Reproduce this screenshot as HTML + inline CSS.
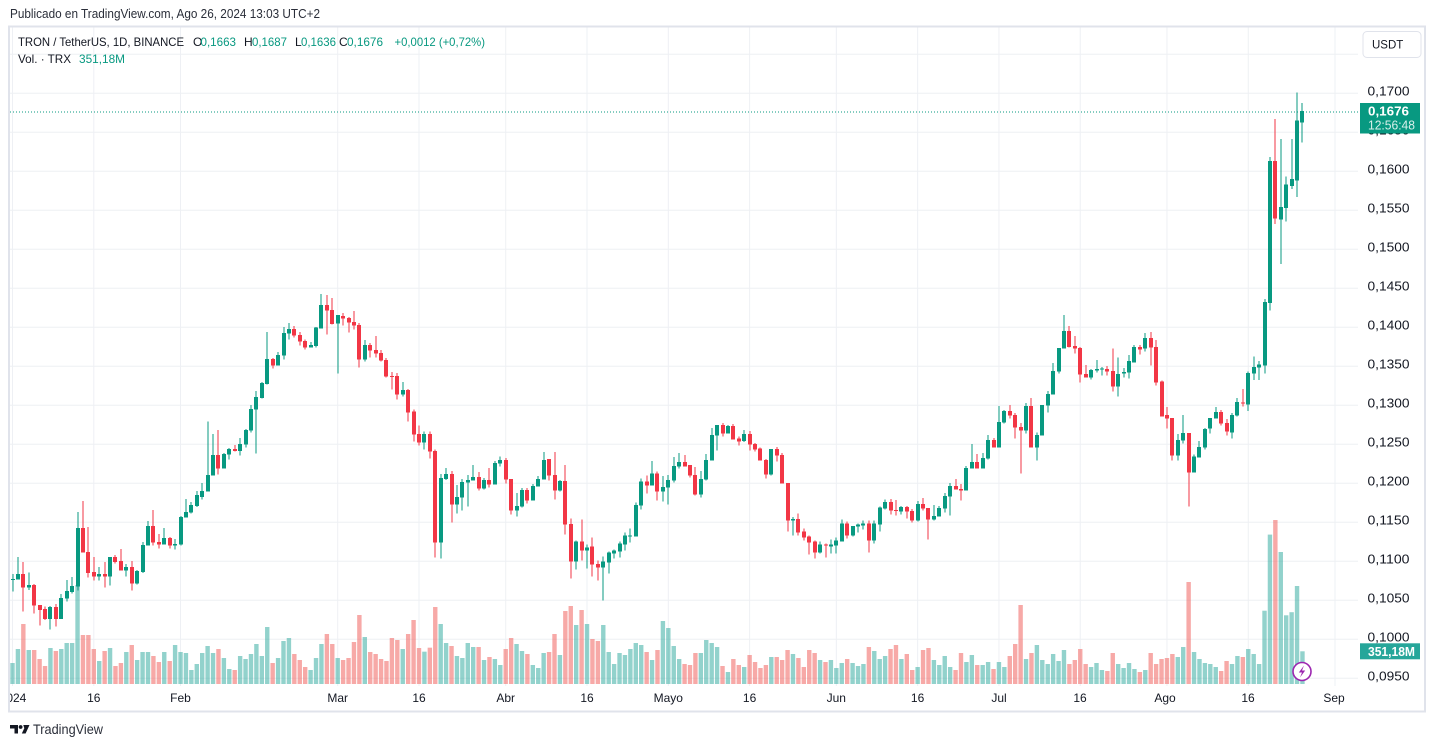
<!DOCTYPE html>
<html><head><meta charset="utf-8">
<style>
html,body{margin:0;padding:0;background:#fff;}
body{width:1435px;height:747px;overflow:hidden;}
svg{display:block;font-family:"Liberation Sans",sans-serif;}
</style></head><body>
<svg id="s" width="1435" height="747" viewBox="0 0 1435 747" xmlns="http://www.w3.org/2000/svg">
<defs><clipPath id="tc"><rect x="10" y="680" width="1350" height="30"/></clipPath></defs>
<rect width="1435" height="747" fill="#fff"/>
<text x="10" y="18" font-size="12.5" fill="#2a2e39" textLength="310" lengthAdjust="spacingAndGlyphs">Publicado en TradingView.com, Ago 26, 2024 13:03 UTC+2</text>
<g id="grid" stroke="#eef0f4" stroke-width="1"></g>
<g id="vol"></g>
<line x1="10" y1="112" x2="1358" y2="112" stroke="#089981" stroke-width="1" stroke-dasharray="1,2"/>
<g id="cdl" shape-rendering="crispEdges"></g>
<rect x="9" y="26.5" width="1416" height="685" fill="none" stroke="#e0e3eb" stroke-width="2"/>
<!-- legend -->
<g font-size="12">
<text x="18" y="46" fill="#131722" textLength="166" lengthAdjust="spacingAndGlyphs">TRON / TetherUS, 1D, BINANCE</text>
<text x="193" y="46" fill="#131722">O</text><text x="200.5" y="46" fill="#089981" textLength="35.5" lengthAdjust="spacingAndGlyphs">0,1663</text>
<text x="244" y="46" fill="#131722">H</text><text x="252" y="46" fill="#089981" textLength="35" lengthAdjust="spacingAndGlyphs">0,1687</text>
<text x="295" y="46" fill="#131722">L</text><text x="301" y="46" fill="#089981" textLength="35" lengthAdjust="spacingAndGlyphs">0,1636</text>
<text x="339" y="46" fill="#131722">C</text><text x="347" y="46" fill="#089981" textLength="36" lengthAdjust="spacingAndGlyphs">0,1676</text>
<text x="394.5" y="46" fill="#089981" textLength="90.5" lengthAdjust="spacingAndGlyphs">+0,0012 (+0,72%)</text>
<text x="18" y="63" fill="#131722" textLength="53" lengthAdjust="spacingAndGlyphs">Vol. · TRX</text>
<text x="79" y="63" fill="#089981" textLength="46" lengthAdjust="spacingAndGlyphs">351,18M</text>
</g>
<!-- USDT button -->
<rect x="1363" y="31.5" width="58" height="26" rx="4" fill="#fff" stroke="#e0e3eb" stroke-width="1"/>
<text x="1372" y="48.5" font-size="11.5" fill="#131722">USDT</text>
<!-- price axis -->
<g font-size="12.5" fill="#131722">
<text x="1367.5" y="95.6" textLength="42" lengthAdjust="spacingAndGlyphs">0,1700</text>
<text x="1367.5" y="134.6" textLength="42" lengthAdjust="spacingAndGlyphs">0,1650</text>
<text x="1367.5" y="173.6" textLength="42" lengthAdjust="spacingAndGlyphs">0,1600</text>
<text x="1367.5" y="212.6" textLength="42" lengthAdjust="spacingAndGlyphs">0,1550</text>
<text x="1367.5" y="251.6" textLength="42" lengthAdjust="spacingAndGlyphs">0,1500</text>
<text x="1367.5" y="290.6" textLength="42" lengthAdjust="spacingAndGlyphs">0,1450</text>
<text x="1367.5" y="329.6" textLength="42" lengthAdjust="spacingAndGlyphs">0,1400</text>
<text x="1367.5" y="368.6" textLength="42" lengthAdjust="spacingAndGlyphs">0,1350</text>
<text x="1367.5" y="407.6" textLength="42" lengthAdjust="spacingAndGlyphs">0,1300</text>
<text x="1367.5" y="446.6" textLength="42" lengthAdjust="spacingAndGlyphs">0,1250</text>
<text x="1367.5" y="485.6" textLength="42" lengthAdjust="spacingAndGlyphs">0,1200</text>
<text x="1367.5" y="524.6" textLength="42" lengthAdjust="spacingAndGlyphs">0,1150</text>
<text x="1367.5" y="563.6" textLength="42" lengthAdjust="spacingAndGlyphs">0,1100</text>
<text x="1367.5" y="602.6" textLength="42" lengthAdjust="spacingAndGlyphs">0,1050</text>
<text x="1367.5" y="641.6" textLength="42" lengthAdjust="spacingAndGlyphs">0,1000</text>
<text x="1367.5" y="680.6" textLength="42" lengthAdjust="spacingAndGlyphs">0,0950</text>
</g>
<!-- current price label -->
<rect x="1360" y="103" width="60" height="30.5" fill="#089981"/>
<text x="1368" y="115.5" font-size="12.5" font-weight="bold" fill="#fff" textLength="41" lengthAdjust="spacingAndGlyphs">0,1676</text>
<text x="1368" y="129.5" font-size="12.5" fill="#d8f0ea" textLength="47" lengthAdjust="spacingAndGlyphs">12:56:48</text>
<!-- volume label -->
<rect x="1360" y="643.3" width="60" height="16" fill="#26a69a"/>
<text x="1368" y="656" font-size="12.5" font-weight="bold" fill="#fff" textLength="47" lengthAdjust="spacingAndGlyphs">351,18M</text>
<!-- time axis -->
<g font-size="12" fill="#131722" text-anchor="middle" clip-path="url(#tc)">
<text x="13" y="702">2024</text>
<text x="93.8" y="702">16</text>
<text x="180.5" y="702">Feb</text>
<text x="337.7" y="702">Mar</text>
<text x="419" y="702">16</text>
<text x="505.7" y="702">Abr</text>
<text x="587" y="702">16</text>
<text x="668.3" y="702">Mayo</text>
<text x="749.6" y="702">16</text>
<text x="836.3" y="702">Jun</text>
<text x="917.6" y="702">16</text>
<text x="999" y="702">Jul</text>
<text x="1080" y="702">16</text>
<text x="1165" y="702">Ago</text>
<text x="1248" y="702">16</text>
<text x="1334" y="702">Sep</text>
</g>
<!-- lightning icon -->
<circle cx="1302" cy="671.5" r="9" fill="#fff" stroke="#9c27b0" stroke-width="1.6"/>
<path d="M1304 665.5 L1298.8 672.5 L1302 672.5 L1300 677.5 L1305.2 670.5 L1302 670.5 Z" fill="#9c27b0"/>
<!-- TradingView logo -->
<g fill="#131722">
<path d="M10 725 H18 V733.5 H14.5 V728.5 H10 Z"/>
<circle cx="20.6" cy="727" r="1.9"/>
<path d="M23.3 725 H29.5 L25.6 733.5 H21.8 L24.3 728.2 Z"/>
</g>
<text x="33" y="734" font-size="14" fill="#2a2e39" textLength="70" lengthAdjust="spacingAndGlyphs">TradingView</text>
</svg>
<script>
(function(){
const NS="http://www.w3.org/2000/svg";
function el(tag,attrs,parent){const e=document.createElementNS(NS,tag);for(const k in attrs)e.setAttribute(k,attrs[k]);parent.appendChild(e);return e;}
const X=i=>12.5+i*5.42;
// grid
const grid=document.getElementById('grid');
for(let k=0;k<=16;k++){const y=54.3+k*39;el('line',{x1:10,y1:y,x2:1358,y2:y},grid);}
[0,15,31,60,75,91,106,121,136,152,167,182,197,213,228,244].forEach(i=>{const x=X(i);el('line',{x1:x,y1:27.5,x2:x,y2:686},grid);});
const cs=[
[410,0,3,[[1,507,509,492,545],[1,492,509,441,509],[0,492,533,456,605],[1,525,533,487,540],[0,525,587,522,611],[0,585,600,585,647],[0,597,627,590,630],[1,591,627,588,659],[0,591,627,582,650],[1,564,627,552,627],[1,543,566,510,575],[1,528,546,501,551],[1,354,530,306,542],[0,354,428,273,428],[0,426,489,351,503],[0,486,500,441,512],[1,492,500,471,512],[0,492,500,456,533],[1,441,500,441,527],[0,441,456,435,461],[0,453,482,417,482],[1,471,482,462,500],[0,471,521,453,542],[1,483,521,480,524],[1,405,486,396,489],[1,348,407,333,407],[0,348,398,300,407],[0,396,404,372,416],[1,384,404,354,404],[0,384,407,381,416],[1,402,407,387,419],[1,321,404,318,407],[1,306,323,267,323],[1,285,308,276,311],[1,255,288,243,291]]],
[285,35,3,[[1,618,636,594,644],[1,570,620,410,620],[1,510,572,447,572],[0,510,551,435,569],[1,507,551,504,551],[1,492,509,489,524],[0,492,498,480,500],[1,477,498,459,512],[1,435,479,432,488],[1,372,437,360,443],[1,336,374,318,506],[1,294,339,291,341],[1,222,297,141,299],[0,222,242,219,251],[1,210,242,201,242],[1,144,212,126,224],[1,132,146,114,164],[0,132,152,123,158],[0,150,170,141,182],[0,168,188,164,194],[1,180,188,171,188],[1,128,183,126,188],[1,60,131,27,131],[0,60,77,30,149],[0,75,117,39,119],[1,90,116,90,266],[0,93,101,84,122],[0,99,113,96,143],[0,111,122,78,134],[0,120,224,114,248],[1,180,224,165,230],[0,180,197,174,218],[0,195,206,153,218],[0,204,227,195,230],[0,225,275,219,278],[0,273,275,261,314],[0,273,329,264,344],[1,315,329,291,335],[0,315,383,312,410],[0,380,449,374,470],[0,447,473,422,482],[1,447,473,440,494]]],
[400,77,3,[[0,102,155,94,176],[0,153,428,148,473],[1,234,428,222,476],[1,222,237,204,240],[0,222,314,213,368],[1,291,314,255,341],[1,246,293,237,332],[1,240,248,225,320],[1,231,242,195,242],[0,231,266,216,272],[1,240,266,234,269],[0,240,254,204,263],[1,189,254,183,254],[1,180,191,170,200],[0,180,239,174,251],[0,237,332,237,344],[1,318,332,279,350],[1,270,320,264,323],[0,270,302,264,311],[1,258,302,252,302],[1,237,260,228,260],[1,180,239,156,239],[0,177,227,177,242],[0,225,272,156,299],[1,243,272,240,275],[0,243,374,195,404],[0,372,485,356,536],[1,425,485,422,509],[0,425,452,359,482],[1,442,452,434,506],[0,440,494,413,530],[0,492,503,482,542],[1,485,503,470,602],[1,458,488,455,521],[1,452,461,449,476],[1,431,455,425,473],[1,407,434,398,452],[1,407,410,386,428],[1,315,410,307,410],[1,245,317,236,329],[0,245,257,227,281],[1,221,257,183,257],[0,221,275,215,302]]],
[405,120,3,[[1,246,260,213,290],[1,225,248,210,299],[1,183,227,156,233],[1,171,185,144,191],[0,171,185,150,185],[0,180,212,180,218],[0,210,269,186,272],[1,222,269,198,278],[1,165,224,147,227],[1,90,167,69,167],[1,60,92,60,137],[0,60,86,54,95],[1,63,86,60,86],[0,63,104,57,104],[0,101,110,95,122],[1,87,108,75,111],[0,87,119,78,137],[0,117,134,114,140],[0,131,167,128,167],[0,165,209,162,221],[1,132,209,132,212],[0,132,152,126,170],[0,150,236,144,236],[0,234,347,234,380],[1,342,347,336,392],[0,342,383,326,392],[0,380,398,371,407],[0,395,413,392,449],[0,410,443,407,461],[1,419,443,410,446],[0,419,422,416,458],[1,419,425,404,446],[1,407,422,398,446],[1,356,410,344,410],[0,356,392,350,401],[1,363,392,363,395],[1,359,365,356,383],[1,356,362,347,374],[0,356,407,347,443],[1,356,407,347,416],[1,308,359,305,380],[1,291,311,284,314],[0,291,317,282,329]]],
[305,163,3,[[0,615,617,585,632],[1,606,620,603,629],[0,606,620,603,641],[0,618,647,612,653],[1,597,647,588,650],[0,597,611,579,617],[0,609,644,609,704],[1,633,644,600,647],[1,609,635,603,635],[1,573,611,564,623],[1,543,575,534,632],[0,543,554,522,554],[0,552,557,537,587],[1,489,557,483,557],[1,471,491,417,491],[0,471,491,447,491],[1,459,491,444,491],[1,405,461,390,464],[0,405,428,399,428],[1,351,428,303,428],[1,318,353,315,356],[0,318,332,300,341],[0,330,368,324,401],[0,366,377,354,506],[1,303,377,294,386],[0,303,428,279,428],[1,390,428,383,467],[1,300,392,300,392],[1,267,302,258,323],[1,198,269,174,269],[1,129,200,129,206],[1,78,131,30,131],[0,78,126,63,128],[0,123,131,93,146],[0,129,209,126,233],[0,207,218,180,218],[1,195,218,192,224],[1,192,197,165,203],[1,191,193,186,212],[0,192,200,183,212],[0,198,245,131,260],[1,207,245,158,275],[1,201,206,189,218]]],
[320,206,3,[[1,123,158,105,176],[1,81,128,75,128],[0,81,89,75,104],[1,54,86,39,95],[0,54,83,36,137],[0,81,188,60,197],[0,185,290,182,290],[0,285,296,261,326],[0,294,407,294,422],[1,360,407,342,422],[1,339,362,285,371],[0,339,458,339,560],[1,410,458,404,458],[1,381,413,363,413],[1,327,383,324,389],[1,294,326,294,341],[1,276,296,261,296],[0,276,311,270,317],[0,309,335,297,347],[1,285,338,279,356],[1,246,287,234,290],[0,248,250,207,260]]],
[0,228,1,[[1,372.8,404.5,371.7,411.1],[1,367.1,373.6,356.6,379.9],[1,364.7,367.4,360.9,379.9],[1,301.8,365.5,299.1,373.6],[1,160.9,303,157,310.7],[0,160.9,218.4,118.8,223.8],[1,206.8,219.6,138.9,264],[1,184.4,208,176.7,221.5],[1,179,186,138.9,189.1],[1,120.7,180.6,92.5,196.8],[1,111,122.3,103,142.7]]]
];
const C=[];
cs.forEach(s=>{const off=s[0],st=s[1],sc=s[2];s[3].forEach((r,j)=>{C[st+j]={g:r[0],bt:off+r[1]/sc,bb:off+r[2]/sc,wt:off+r[3]/sc,wb:off+r[4]/sc};});});
const vs=[
[410,0,3,[759,717,642,720,720,747,768,714,723,717,699,699,525,675,675,717,753,723,714,768,759,726,705,750,726,726,738,756,726,753,705,726,729,780,762,729]],
[590,36,3,[168,189,177,204,237,240,198,207,192,162,198,111,219,204,153,144,192,210,231,240,204,162,132,162,204,210,204,156,75,141,186,192,207,213,144,150,177,132,90,174]],
[400,76,3,[755,743,621,672,729,738,768,774,729,741,741,780,771,777,795,747,714,732,753,762,795,804,759,756,702,765,633,618,675,630,672,717,723,675,756,792,759,765,747,729,735,756,780,750]],
[405,120,3,[648,669,723,762,777,780,744,744,705,714,726,783,801,762,780,786,750,771,789,780,756,756,765,735,747,759,786,735,744,765,771,765,789,774,762,774,783,777,726,738,762,753,732]],
[305,163,3,[1020,1062,1047,1095,1086,1035,1029,1065,1080,1053,1086,1095,1044,1071,1050,1080,1080,1071,1092,1071,1086,1053,1017,900,1062,1044,1020,1065,1077,1047,1068,1035,1077,1065,1032,1077,1086,1074,1095,1098,1044,1077,1089]],
[320,206,3,[1029,1047,1056,1050,999,1032,1017,1014,1002,1011,981,786,996,1017,1029,1032,1041,1053,1023,1032,1008,1011,987,1002,1032]],
[0,231,1,[610.7,534.6,520,552,615.3,612.2,586,651.3]]
];
const vol=document.getElementById('vol');
vs.forEach(s=>{const off=s[0],st=s[1],sc=s[2];s[3].forEach((v,j)=>{const i=st+j;const top=off+v/sc;const c=C[i];const g=c?c.g:1;
 el('rect',{x:(X(i)-2.2).toFixed(2),y:top.toFixed(2),width:4.4,height:Math.max(684-top,0.5).toFixed(2),fill:g?'#26a69a':'#ef5350','fill-opacity':0.5},vol);});});
const cg=document.getElementById('cdl');
C.forEach((c,i)=>{if(!c)return;const col=c.g?'#089981':'#f23645';const cx=Math.round(X(i));
 el('rect',{x:cx-0.5,y:c.wt.toFixed(2),width:1,height:Math.max(c.wb-c.wt,1).toFixed(2),fill:col},cg);
 el('rect',{x:cx-2,y:c.bt.toFixed(2),width:4,height:Math.max(c.bb-c.bt,1).toFixed(2),fill:col},cg);
});
})();
</script>
</body></html>
